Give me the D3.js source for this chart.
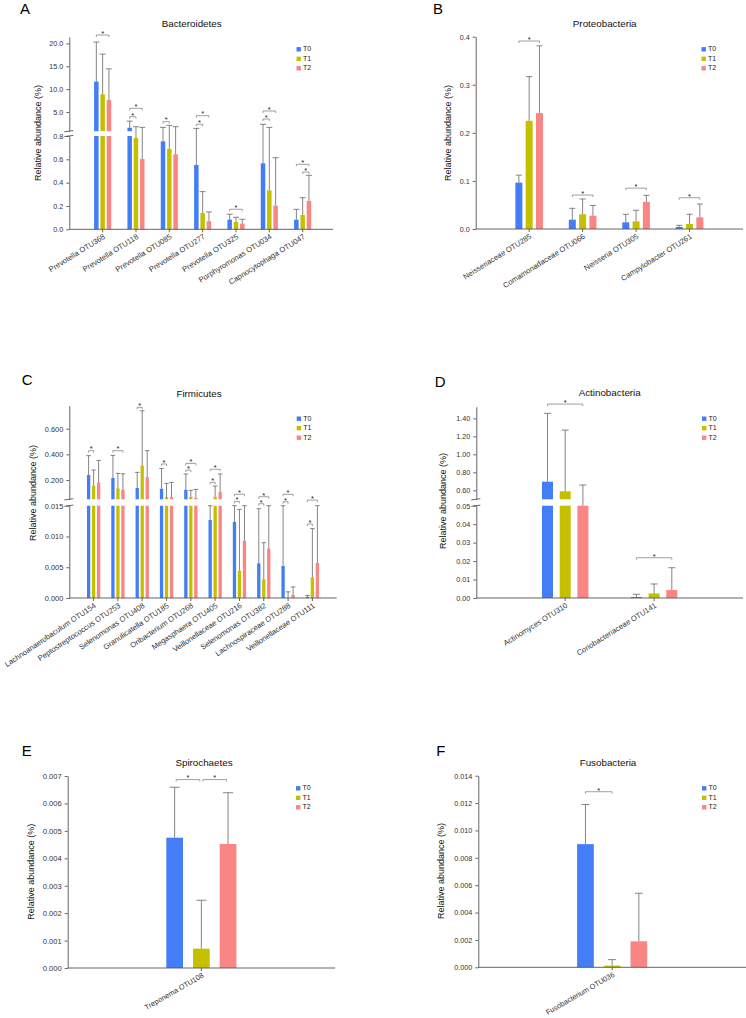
<!DOCTYPE html>
<html><head><meta charset="utf-8">
<script src="https://cdn.jsdelivr.net/npm/d3@7"></script>
<style>body{margin:0;background:#fff}svg{display:block}</style>
</head><body>
<script>
// ---------- data ----------
const series = ["T0", "T1", "T2"];
const seriesColors = ["#437ef7", "#c4c000", "#f98585"];

const aCategories = ["Prevotella OTU368","Prevotella OTU118","Prevotella OTU085","Prevotella OTU277","Prevotella OTU325","Porphyromonas OTU034","Capnocytophaga OTU047"];
const aT0 = [11.65, 1.56, 0.754, 0.551, 0.083, 0.566, 0.083];
const aT1 = [8.87, 0.783, 0.689, 0.140, 0.063, 0.334, 0.123];
const aT2 = [7.63, 0.603, 0.643, 0.069, 0.049, 0.203, 0.243];
const aErr0 = [20.3, 3.0, 1.64, 1.41, 0.129, 2.3, 0.171];
const aErr1 = [17.65, 1.78, 2.07, 0.323, 0.103, 1.64, 0.271];
const aErr2 = [14.43, 1.64, 1.78, 0.149, 0.086, 0.614, 0.463];
const aBrackets = [[0,0,2,21.84],[1,0,1,3.97],[1,0,2,5.81],[2,0,1,2.88],[3,0,2,4.19],[3,0,1,2.31],[4,0,2,0.172],[5,0,2,5.22],[5,0,1,3.47],[6,0,2,0.557],[6,1,2,0.491]];
const aTicksLow = [0, 0.2, 0.4, 0.6, 0.8];
const aTicksHigh = [5, 10, 15, 20];

const bCategories = ["Neisseriaceae OTU285","Comamonadaceae OTU066","Neisseria OTU305","Campylobacter OTU261"];
const bT0 = [0.0965, 0.0194, 0.0139, 0.0042];
const bT1 = [0.225, 0.0306, 0.016, 0.0104];
const bT2 = [0.241, 0.0278, 0.0563, 0.0243];
const bErr0 = [0.112, 0.043, 0.0306, 0.0076];
const bErr1 = [0.317, 0.0625, 0.0389, 0.0306];
const bErr2 = [0.381, 0.049, 0.070, 0.052];
const bBrackets = [[0,0,2,0.391],[1,0,2,0.0706],[2,0,2,0.085],[3,0,2,0.065]];
const bTicks = [0, 0.1, 0.2, 0.3, 0.4];

const cCategories = ["Lachnoanaerobaculum OTU154","Peptostreptococcus OTU253","Selenomonas OTU408","Granulicatella OTU185","Oribacterium OTU268","Megasphaera OTU405","Veillonellaceae OTU216","Selenomonas OTU382","Lachnospiraceae OTU288","Veillonellaceae OTU111"];
const cT0 = [0.239, 0.216, 0.138, 0.132, 0.125, 0.01267, 0.01235, 0.00563, 0.0052, 0.00017];
const cT1 = [0.156, 0.135, 0.312, 0.068, 0.068, 0.070, 0.00444, 0.00303, 0.0001, 0.00336];
const cT2 = [0.182, 0.125, 0.223, 0.068, 0.060, 0.106, 0.00931, 0.00801, 0.0005, 0.00569];
const cErr0 = [0.39, 0.392, 0.26, 0.291, 0.247, 0.03, 0.03, 0.01451, 0.03, 0.0004];
const cErr1 = [0.278, 0.252, 0.74, 0.174, 0.12, 0.153, 0.0144, 0.00899, 0.001, 0.01127];
const cErr2 = [0.353, 0.249, 0.429, 0.182, 0.127, 0.247, 0.03, 0.03, 0.0018, 0.03];
const cBrackets = [[0,0,1,0.429],[1,0,2,0.429],[2,0,1,0.767],[3,0,1,0.325],[4,0,1,0.278],[4,0,2,0.330],[5,0,1,0.182],[5,0,2,0.284],[6,0,1,0.034],[6,0,2,0.089],[7,0,1,0.0155],[7,0,2,0.070],[8,0,1,0.031],[8,0,2,0.089],[9,0,1,0.01203],[9,0,2,0.044]];
const cTicksLow = [0, 0.005, 0.010, 0.015];
const cTicksHigh = [0.2, 0.4, 0.6];

const dCategories = ["Actinomyces OTU310","Coriobacteriaceae OTU141"];
const dT0 = [0.696, 0.00054];
const dT1 = [0.589, 0.0025];
const dT2 = [0.49, 0.0043];
const dErr0 = [1.456, 0.002];
const dErr1 = [1.27, 0.0076];
const dErr2 = [0.659, 0.0164];
const dBrackets = [[0,0,2,1.559],[1,0,2,0.0218]];
const dTicksLow = [0, 0.01, 0.02, 0.03, 0.04, 0.05];
const dTicksHigh = [0.6, 0.8, 1.0, 1.2, 1.4];

const eCategories = ["Treponema OTU108"];
const eT0 = [0.00475], eT1 = [0.000705], eT2 = [0.00452];
const eErr0 = [0.00659], eErr1 = [0.00247], eErr2 = [0.00639];
const eBrackets = [[0,0,1,0.00687],[0,1,2,0.00687]];
const eTicks = [0, 0.001, 0.002, 0.003, 0.004, 0.005, 0.006, 0.007];

const fCategories = ["Fusobacterium OTU036"];
const fT0 = [0.009], fT1 = [0.00012], fT2 = [0.0019];
const fErr0 = [0.0119], fErr1 = [0.00056], fErr2 = [0.00541];
const fBrackets = [[0,0,1,0.01283]];
const fTicks = [0, 0.002, 0.004, 0.006, 0.008, 0.010, 0.012, 0.014];

// ---------- drawing ----------
const FONT = '"Liberation Sans", Arial, Helvetica, sans-serif';
const AXIS = "#555", ERR = "#666", BRK = "#888", TXT = "#333";
const svg = d3.select("body").append("svg").attr("width", 746).attr("height", 1018)
  .style("font-family", FONT);
svg.append("rect").attr("width", 746).attr("height", 1018).attr("fill", "#fff");

function panel(cfg, d) {
  const g = svg.append("g");
  const loS = d3.scaleLinear().domain(cfg.lo).range(cfg.loR);
  const hiS = cfg.hi ? d3.scaleLinear().domain(cfg.hi).range(cfg.hiR) : null;
  const loMax = cfg.lo[1];
  const y = v => (!hiS || v <= loMax) ? loS(v) : (v < cfg.hi[0] ? loS(loMax) : hiS(v));
  const yb = v => (!hiS || v <= loMax) ? loS(v) : hiS(v);
  const x = d3.scalePoint().domain(d.cats).range([cfg.x0, cfg.x1]).padding(1);
  const off = d3.scalePoint().domain(series).range([-cfg.step, cfg.step]);
  const y0 = loS(0);
  const cx = (i, s) => x(d.cats[i]) + off(series[s]);

  // bars
  d.vals.forEach((vals, s) => {
    vals.forEach((v, i) => {
      const bx = cx(i, s) - cfg.barW / 2;
      const top = loS(Math.min(v, loMax));
      g.append("rect").attr("x", bx).attr("y", top).attr("width", cfg.barW)
        .attr("height", y0 - top).attr("fill", seriesColors[s]);
      if (hiS && v > cfg.hi[0]) {
        const b = hiS(cfg.hi[0]), t = hiS(v);
        g.append("rect").attr("x", bx).attr("y", t).attr("width", cfg.barW)
          .attr("height", b - t).attr("fill", seriesColors[s]);
      }
    });
  });
  // error bars
  d.errs.forEach((errs, s) => {
    errs.forEach((e, i) => {
      const c = cx(i, s), yt = y(e), yv = y(d.vals[s][i]);
      g.append("line").attr("x1", c).attr("x2", c).attr("y1", yv).attr("y2", yt)
        .attr("stroke", ERR).attr("stroke-width", 0.8);
      g.append("line").attr("x1", c - cfg.capW / 2).attr("x2", c + cfg.capW / 2)
        .attr("y1", yt).attr("y2", yt).attr("stroke", ERR).attr("stroke-width", 0.8);
    });
  });
  // brackets
  d.brackets.forEach(([i, s1, s2, v]) => {
    const xa = cx(i, s1) + (cfg.inset || 0), xb = cx(i, s2) - (cfg.inset || 0), yy = yb(v);
    g.append("path").attr("d", `M${xa},${yy + 2}V${yy}H${xb}V${yy + 2}`)
      .attr("fill", "none").attr("stroke", BRK).attr("stroke-width", 0.8);
    g.append("text").attr("x", (xa + xb) / 2).attr("y", yy + 0.8).attr("text-anchor", "middle")
      .attr("font-size", 7.5).attr("fill", "#222").text("*");
  });

  // y axes
  const styleAxis = sel => {
    sel.select(".domain").attr("stroke", AXIS).attr("stroke-width", 0.9);
    sel.selectAll(".tick line").attr("stroke", AXIS).attr("stroke-width", 0.9);
    sel.selectAll(".tick text").attr("fill", TXT).attr("font-size", cfg.tickFont).attr("font-family", FONT);
  };
  g.append("g").attr("transform", `translate(${cfg.x0},0)`)
    .call(d3.axisLeft(loS).tickValues(cfg.loTicks).tickFormat(d3.format(cfg.fmt)).tickSize(3).tickSizeOuter(0).tickPadding(3))
    .call(styleAxis);
  if (hiS) {
    g.append("g").attr("transform", `translate(${cfg.x0},0)`)
      .call(d3.axisLeft(hiS).tickValues(cfg.hiTicks).tickFormat(d3.format(cfg.fmt)).tickSize(3).tickSizeOuter(0).tickPadding(3))
      .call(styleAxis);
    [loS(loMax), hiS(cfg.hi[0])].forEach(yy => {
      g.append("line").attr("x1", cfg.x0 - 5).attr("x2", cfg.x0 + 4)
        .attr("y1", yy + 0.6).attr("y2", yy - 0.6).attr("stroke", AXIS).attr("stroke-width", 0.9);
    });
  }
  // x axis
  g.append("line").attr("x1", cfg.x0).attr("x2", cfg.xEnd).attr("y1", y0).attr("y2", y0)
    .attr("stroke", AXIS).attr("stroke-width", 0.9);
  d.cats.forEach(c => {
    const xc = x(c);
    g.append("line").attr("x1", xc).attr("x2", xc).attr("y1", y0).attr("y2", y0 + 3)
      .attr("stroke", AXIS).attr("stroke-width", 0.9);
    g.append("text").attr("transform", `translate(${xc + 3},${y0 + 8.8}) rotate(${cfg.angle})`)
      .attr("text-anchor", "end").attr("font-size", cfg.labFont || 7.6).attr("fill", TXT).text(c);
  });
  // y label
  g.append("text").attr("transform", `translate(${cfg.ylabX},${cfg.ylabY}) rotate(-90)`)
    .attr("text-anchor", "middle").attr("dominant-baseline", "middle")
    .attr("font-size", 9).attr("fill", "#111").text("Relative abundance (%)");
  // title
  g.append("text").attr("x", cfg.titleX).attr("y", cfg.titleY).attr("text-anchor", "middle")
    .attr("font-size", 9.8).attr("fill", "#111").text(d.title);
  // panel letter
  g.append("text").attr("x", cfg.letterX).attr("y", cfg.letterY).attr("font-size", 15)
    .attr("fill", "#000").text(d.letter);
  // legend
  series.forEach((s, k) => {
    const ly = cfg.legY + k * 9.5;
    g.append("rect").attr("x", cfg.legX).attr("y", ly - 2.2).attr("width", 4.4).attr("height", 4.4)
      .attr("fill", seriesColors[k]);
    g.append("text").attr("x", cfg.legX + 6.5).attr("y", ly).attr("dominant-baseline", "middle")
      .attr("font-size", 7).attr("fill", "#222").text(s);
  });
}

panel({x0: 69.3, x1: 336, xEnd: 333, lo: [0, 0.8], loR: [229.3, 136], hi: [0.8, 21.4], hiR: [131.2, 37],
  loTicks: aTicksLow, hiTicks: aTicksHigh, fmt: ".1f", tickFont: 7.2, barW: 4.5, step: 6.3, capW: 6, angle: -32,
  ylabX: 39, ylabY: 133, titleX: 191.7, titleY: 27.4, letterX: 20, letterY: 14, legX: 296.5, legY: 49.3},
  {cats: aCategories, vals: [aT0, aT1, aT2], errs: [aErr0, aErr1, aErr2], brackets: aBrackets, title: "Bacteroidetes", letter: "A"});

panel({x0: 475.7, x1: 743, xEnd: 743, lo: [0, 0.4], loR: [229, 36.7],
  loTicks: bTicks, fmt: ".1f", tickFont: 7.2, barW: 7, step: 10.3, capW: 6, angle: -32,
  ylabX: 449, ylabY: 133, titleX: 604.7, titleY: 27, letterX: 433, letterY: 14, legX: 701.5, legY: 49.3},
  {cats: bCategories, vals: [bT0, bT1, bT2], errs: [bErr0, bErr1, bErr2], brackets: bBrackets, title: "Proteobacteria", letter: "B"});

panel({x0: 69.3, x1: 336.7, xEnd: 336.7, lo: [0, 0.015], loR: [598, 505.7], hi: [0.05, 0.78], hiR: [499.3, 405.6],
  loTicks: cTicksLow, hiTicks: cTicksHigh, fmt: ".3f", tickFont: 7.4, barW: 3.3, step: 5, capW: 4.5, angle: -34,
  ylabX: 33.3, ylabY: 493, titleX: 199, titleY: 396.7, letterX: 21.7, letterY: 385, legX: 296.7, legY: 418.7},
  {cats: cCategories, vals: [cT0, cT1, cT2], errs: [cErr0, cErr1, cErr2], brackets: cBrackets, title: "Firmicutes", letter: "C"});

panel({x0: 476.3, x1: 743, xEnd: 743, lo: [0, 0.05], loR: [598, 505.7], hi: [0.5, 1.53], hiR: [499.3, 406.7],
  loTicks: dTicksLow, hiTicks: dTicksHigh, fmt: ".2f", tickFont: 7.2, barW: 11, step: 17.7, capW: 7, angle: -32,
  ylabX: 444, ylabY: 501, titleX: 609.7, titleY: 395.7, letterX: 434.7, letterY: 386.7, legX: 702, legY: 418.7},
  {cats: dCategories, vals: [dT0, dT1, dT2], errs: [dErr0, dErr1, dErr2], brackets: dBrackets, title: "Actinobacteria", letter: "D"});

panel({x0: 67.7, x1: 335, xEnd: 335, lo: [0, 0.007], loR: [968, 776],
  loTicks: eTicks, fmt: ".3f", tickFont: 7.6, barW: 16.7, step: 26.7, capW: 10, angle: -30, labFont: 7.3, inset: 1.5,
  ylabX: 31.7, ylabY: 871.7, titleX: 204, titleY: 766, letterX: 21.7, letterY: 756, legX: 296, legY: 788.3},
  {cats: eCategories, vals: [eT0, eT1, eT2], errs: [eErr0, eErr1, eErr2], brackets: eBrackets, title: "Spirochaetes", letter: "E"});

panel({x0: 478.3, x1: 746, xEnd: 746, lo: [0, 0.014], loR: [967.3, 775.7],
  loTicks: fTicks, fmt: ".3f", tickFont: 7.2, barW: 16.7, step: 26.7, capW: 8, angle: -30, labFont: 7.3,
  ylabX: 442, ylabY: 871, titleX: 608, titleY: 766, letterX: 436.3, letterY: 756, legX: 702, legY: 788.3},
  {cats: fCategories, vals: [fT0, fT1, fT2], errs: [fErr0, fErr1, fErr2], brackets: fBrackets, title: "Fusobacteria", letter: "F"});
</script>
</body></html>
